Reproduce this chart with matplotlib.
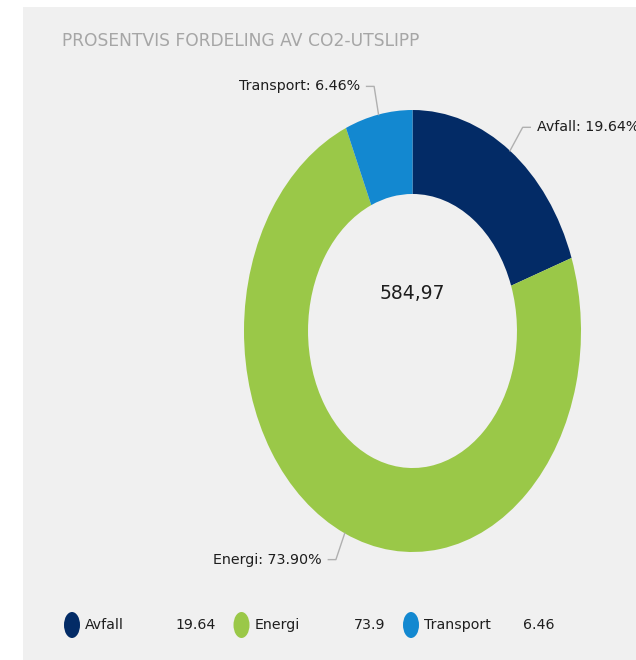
import numpy as np
import matplotlib
matplotlib.use("Agg")
from matplotlib import pyplot as plt
from matplotlib.patches import Rectangle, Ellipse

# data
categories = ["Avfall", "Energi", "Transport"]
shares = [19.64, 73.90, 6.46]
legend_values = ["19.64", "73.9", "6.46"]
colors = ["#032b66", "#9ac848", "#1388d0"]
total_text = "584,97"
title = "PROSENTVIS FORDELING AV CO2-UTSLIPP"

font = "DejaVu Sans"
text_color = "#1e1e1e"

fig = plt.figure(figsize=(6.36, 6.60), dpi=100)

# background panel / title / legend drawn in pixel coordinates
bg = fig.add_axes([0, 0, 1, 1])
bg.set_xlim(0, 636)
bg.set_ylim(660, 0)
bg.axis("off")
bg.add_patch(Rectangle((23, 7), 640, 660, facecolor="#f0f0f0", edgecolor="none"))
bg.text(62, 41, title, fontsize=12.3, color="#a6a6a6", family=font,
        va="center", ha="left")

# legend row
for i, (name, val, col) in enumerate(zip(categories, legend_values, colors)):
    x0 = 72 + i * 169.5
    bg.add_patch(Ellipse((x0, 625), 16, 26, facecolor=col, edgecolor="none"))
    bg.text(x0 + 13, 625, name, fontsize=10.2, family=font, color=text_color,
            va="center", ha="left")
    bg.text(x0 + 144, 625, val, fontsize=10.2, family=font, color=text_color,
            va="center", ha="right")

# donut (stretched like the reference, so aspect is auto)
ax = fig.add_axes([244 / 636, 1 - 552 / 660, 337 / 636, 442 / 660])
ax.set_facecolor("none")
wedges, _ = ax.pie(shares, colors=colors, startangle=90, counterclock=False,
                   radius=1.0, wedgeprops=dict(width=0.38, edgecolor="none"))
ax.set_aspect("auto")
ax.set_xlim(-1, 1)
ax.set_ylim(-1, 1)
ax.axis("off")

ax.text(0, 0.17, total_text, fontsize=13.5, family=font, color=text_color,
        ha="center", va="center")

# labels with elbow lines
for w, name, s in zip(wedges, categories, shares):
    mid = np.deg2rad((w.theta1 + w.theta2) / 2)
    cx, cy = np.cos(mid), np.sin(mid)
    ex, ey = 1.13 * cx, 1.13 * cy
    side = 1 if cx >= 0 else -1
    hx = ex + side * 0.045
    ax.plot([cx, ex, hx], [cy, ey, ey], color="#b0b0b0", lw=1, clip_on=False)
    ax.text(hx + side * 0.04, ey, f"{name}: {s:.2f}%", fontsize=10.3,
            family=font, color=text_color, va="center",
            ha="left" if side > 0 else "right", clip_on=False)

fig.savefig("out.png", dpi=100)
